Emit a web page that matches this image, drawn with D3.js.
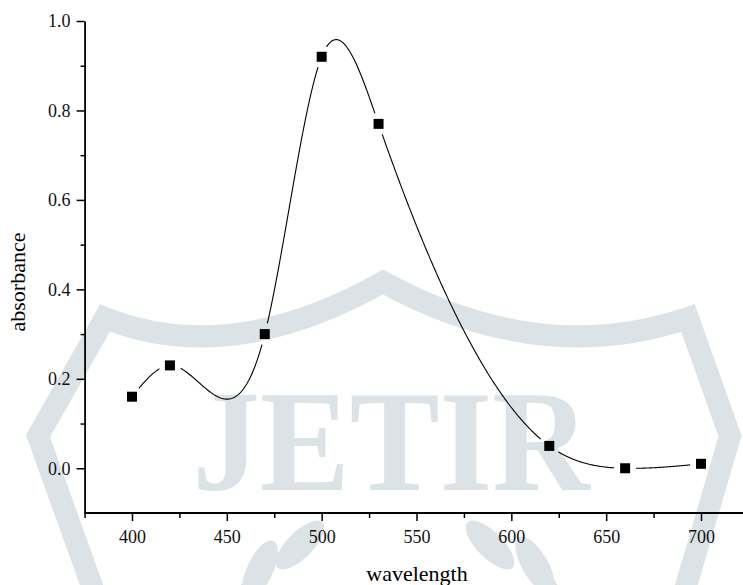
<!DOCTYPE html>
<html>
<head>
<meta charset="utf-8">
<script src="https://cdn.jsdelivr.net/npm/d3@7"></script>
<style>
  body { margin: 0; background: #fff; }
  svg text { font-family: "Liberation Serif", "Times New Roman", serif; }
</style>
</head>
<body>
<svg id="chart" width="743" height="585"></svg>
<script>
// data
var wavelength = [400, 420, 470, 500, 530, 620, 660, 700];
var absorbance = [0.16, 0.23, 0.30, 0.92, 0.77, 0.05, 0.00, 0.01];
var xTicks = [400, 450, 500, 550, 600, 650, 700];
var xMinor = [375, 425, 475, 525, 575, 625, 675, 725];
var yTicks = [0.0, 0.2, 0.4, 0.6, 0.8, 1.0];
var yMinor = [0.1, 0.3, 0.5, 0.7, 0.9];

var svg = d3.select("#chart");
var W = 743, H = 585;
var serif = "'Liberation Serif', 'Times New Roman', serif";

var x = d3.scaleLinear().domain([400, 700]).range([132, 701]);
var y = d3.scaleLinear().domain([-0.1, 1.0]).range([513, 21]);
var x0 = x(375);

// watermark (faint logo behind the plot)
var wmColor = "#dce3e7";
var wm = svg.append("g").attr("fill", "none").attr("stroke", wmColor);
wm.append("path")
  .attr("stroke-width", 22)
  .attr("stroke-linejoin", "miter")
  .attr("d", "M97,600 L38,436 L105,318 Q230,368 383,282 Q540,368 688,318 L730,436 L682,600");
wm.append("text")
  .attr("x", 391).attr("y", 490)
  .attr("text-anchor", "middle")
  .attr("fill", wmColor).attr("stroke", "none")
  .attr("textLength", 397).attr("lengthAdjust", "spacingAndGlyphs")
  .style("font-size", "143px").style("font-weight", "bold")
  .style("font-family", serif)
  .text("JETIR");
// laurel leaves
var leaves = [[-135, 10, -65], [-95, -15, -45], [-150, 50, -80], [95, -15, 45], [140, 5, 60], [155, 45, 80]];
wm.selectAll("ellipse").data(leaves).enter().append("ellipse")
  .attr("cx", 0).attr("cy", 0).attr("rx", 32).attr("ry", 13)
  .attr("fill", wmColor).attr("stroke", "none")
  .attr("transform", function(d) { return "translate(" + (395 + d[0]) + "," + (560 + d[1]) + ")rotate(" + d[2] + ")"; });

// natural cubic spline y(x)
function spline(xs, ys) {
  var n = xs.length, h = [], al = [], l = [1], mu = [0], z = [0], c = [], b = [], dd = [];
  for (var i = 0; i < n - 1; i++) h[i] = xs[i + 1] - xs[i];
  for (i = 1; i < n - 1; i++)
    al[i] = 3 / h[i] * (ys[i + 1] - ys[i]) - 3 / h[i - 1] * (ys[i] - ys[i - 1]);
  for (i = 1; i < n - 1; i++) {
    l[i] = 2 * (xs[i + 1] - xs[i - 1]) - h[i - 1] * mu[i - 1];
    mu[i] = h[i] / l[i];
    z[i] = (al[i] - h[i - 1] * z[i - 1]) / l[i];
  }
  c[n - 1] = 0;
  for (var j = n - 2; j >= 0; j--) {
    c[j] = (j > 0 ? z[j] : 0) - mu[j] * c[j + 1];
    b[j] = (ys[j + 1] - ys[j]) / h[j] - h[j] * (c[j + 1] + 2 * c[j]) / 3;
    dd[j] = (c[j + 1] - c[j]) / (3 * h[j]);
  }
  return function(t) {
    var k = 0;
    while (k < n - 2 && t > xs[k + 1]) k++;
    var u = t - xs[k];
    return ys[k] + b[k] * u + c[k] * u * u + dd[k] * u * u * u;
  };
}
var f = spline(wavelength, absorbance);
var curvePts = d3.range(400, 700.5, 0.5).map(function(t) { return [t, f(t)]; });

// mask leaves a gap around each symbol
var mask = svg.append("defs").append("mask").attr("id", "gap")
  .attr("maskUnits", "userSpaceOnUse").attr("x", 0).attr("y", 0).attr("width", W).attr("height", H);
mask.append("rect").attr("width", W).attr("height", H).attr("fill", "#fff");
mask.selectAll("circle").data(wavelength).enter().append("circle")
  .attr("cx", function(d) { return x(d); })
  .attr("cy", function(d, i) { return y(absorbance[i]); })
  .attr("r", 11).attr("fill", "#000");

svg.append("path")
  .datum(curvePts)
  .attr("fill", "none").attr("stroke", "#000").attr("stroke-width", 1.1)
  .attr("mask", "url(#gap)")
  .attr("d", d3.line().x(function(d) { return x(d[0]); }).y(function(d) { return y(d[1]); }));

svg.selectAll("rect.pt").data(wavelength).enter().append("rect")
  .attr("class", "pt")
  .attr("x", function(d) { return x(d) - 5; })
  .attr("y", function(d, i) { return y(absorbance[i]) - 5; })
  .attr("width", 10).attr("height", 10).attr("fill", "#000");

// axes
var xAxis = svg.append("g").attr("transform", "translate(0," + y(-0.1) + ")");
xAxis.call(d3.axisBottom(x).tickValues(xTicks).tickSize(8).tickPadding(9).tickSizeOuter(0));
xAxis.append("g").call(d3.axisBottom(x).tickValues(xMinor).tickSize(5).tickFormat("").tickSizeOuter(0))
  .select(".domain").remove();
xAxis.select(".domain").attr("d", "M" + x0 + ",0H" + x(725));

var yAxis = svg.append("g").attr("transform", "translate(" + x0 + ",0)");
yAxis.call(d3.axisLeft(y).tickValues(yTicks).tickFormat(d3.format(".1f")).tickSize(8).tickPadding(6).tickSizeOuter(0));
yAxis.append("g").call(d3.axisLeft(y).tickValues(yMinor).tickSize(4).tickFormat("").tickSizeOuter(0))
  .select(".domain").remove();

xAxis.attr("font-family", serif).attr("font-size", 18);
yAxis.attr("font-family", serif).attr("font-size", 18);
svg.selectAll(".domain").attr("stroke-width", 1.8);
svg.selectAll(".tick line").attr("stroke-width", 1.5);
svg.selectAll(".tick text").attr("fill", "#111");

svg.append("text")
  .attr("x", 417).attr("y", 581).attr("text-anchor", "middle")
  .style("font-size", "22px").style("font-family", serif).text("wavelength");
svg.append("text")
  .attr("transform", "translate(25,282)rotate(-90)").attr("text-anchor", "middle")
  .style("font-size", "22px").style("font-family", serif).text("absorbance");
</script>
</body>
</html>
